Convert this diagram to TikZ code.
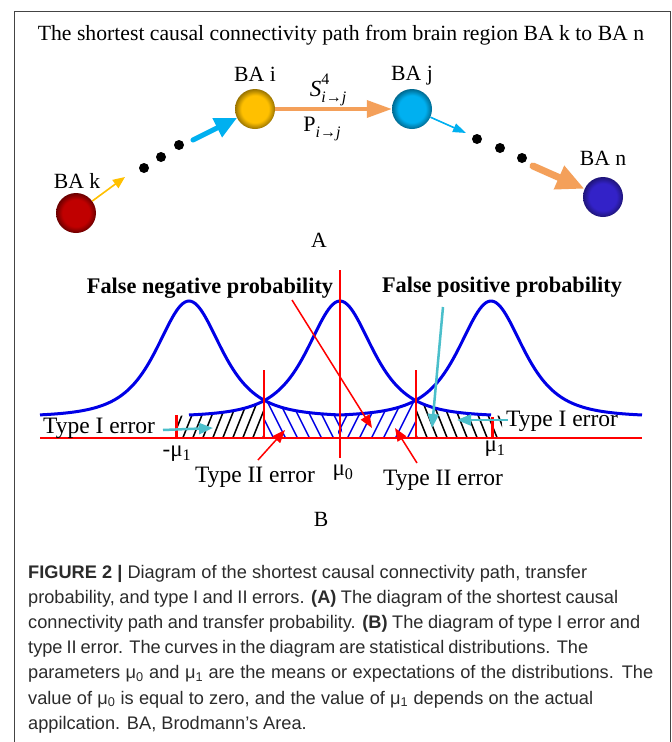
\documentclass[tikz,border=0pt]{standalone}
\usepackage{fontspec}
\setmainfont{Liberation Serif}
\newfontfamily\capfont{Liberation Sans}
\usetikzlibrary{arrows.meta}

\definecolor{kred}{HTML}{C00000}
\colorlet{kdark}{kred!55!black}
\definecolor{igold}{HTML}{FFC000}
\colorlet{idark}{igold!60!black}
\definecolor{jcyan}{HTML}{00B0F0}
\colorlet{jdark}{jcyan!60!black}
\definecolor{nblue}{HTML}{3322C8}
\colorlet{ndark}{nblue!60!black}
\definecolor{arrorange}{HTML}{F4A05A}
\definecolor{arrblue}{HTML}{00B0F0}
\definecolor{arryellow}{HTML}{FFC000}
\definecolor{curveblue}{RGB}{0,0,230}
\definecolor{hred}{RGB}{255,0,0}
\definecolor{tcyan}{HTML}{4BBFCB}
\definecolor{captext}{HTML}{2B2B2B}
\definecolor{framec}{HTML}{444444}

\pgfdeclareradialshading{sphk}{\pgfpoint{0bp}{0bp}}{color(0bp)=(kred); color(17bp)=(kred); color(25bp)=(kdark); color(50bp)=(kdark)}
\pgfdeclareradialshading{sphi}{\pgfpoint{0bp}{0bp}}{color(0bp)=(igold); color(17bp)=(igold); color(25bp)=(idark); color(50bp)=(idark)}
\pgfdeclareradialshading{sphj}{\pgfpoint{0bp}{0bp}}{color(0bp)=(jcyan); color(17bp)=(jcyan); color(25bp)=(jdark); color(50bp)=(jdark)}
\pgfdeclareradialshading{sphn}{\pgfpoint{0bp}{0bp}}{color(0bp)=(nblue); color(17bp)=(nblue); color(25bp)=(ndark); color(50bp)=(ndark)}

\newcommand{\capline}[2]{\makebox[#1][s]{#2}}

\tikzset{
  sph/.style={circle, minimum size=40pt, inner sep=0pt},
  dotnode/.style={circle, fill=black, minimum size=10pt, inner sep=0pt},
  lab/.style={font=\fontsize{21.7}{24}\selectfont, inner sep=0pt},
  blab/.style={font=\fontsize{22.3}{24}\selectfont\bfseries, inner sep=0pt},
  tlab/.style={font=\fontsize{23.5}{25}\selectfont, inner sep=0pt},
  mlab/.style={font=\fontsize{23}{25}\selectfont, inner sep=0pt},
  caption/.style={font=\capfont\fontsize{18.2}{20}\selectfont, text=captext, anchor=base west, inner sep=0pt},
  curve/.style={curveblue, line width=3pt},
  redline/.style={hred, line width=1.5pt},
  hatchk/.style={black, line width=1.5pt},
  hatchb/.style={curveblue, line width=1.5pt},
  redarrow/.style={hred, line width=1.5pt, -{Triangle[length=13pt,width=10pt]}},
  cyanarrow/.style={tcyan, line width=2.5pt, -{Triangle[length=14pt,width=11pt]}},
  declare function={dist(\x,\m)=417-116/((1+((\x-\m)/34)^2/3)^2);}
}

\begin{document}
\begin{tikzpicture}[x=1pt,y=-1pt]
\useasboundingbox (0,0) rectangle (672,742);
\fill[white] (0,0) rectangle (672,742);
\draw[framec, line width=0.8pt] (14,742) -- (14,11) -- (670,11) -- (670,742);

% ---------- Part A ----------
\node[lab] (title) at (341,35) {The shortest causal connectivity path from brain region BA k to BA n};

\node[sph, shading=sphk] (k) at (76,213) {};
\node[sph, shading=sphi] (i) at (255,109) {};
\node[sph, shading=sphj] (j) at (412,109) {};
\node[sph, shading=sphn] (n) at (603,197) {};

\node[lab] (lk) at (77,181) {BA k};
\node[lab] (li) at (255,74) {BA i};
\node[lab] (lj) at (412,76) {BA j};
\node[lab] (ln) at (603,158) {BA n};

\node[dotnode] (d1) at (144,168) {};
\node[dotnode] (d2) at (161,157) {};
\node[dotnode] (d3) at (179,145) {};
\node[dotnode] (d4) at (477,139) {};
\node[dotnode] (d5) at (500,148) {};
\node[dotnode] (d6) at (522,158) {};

\coordinate (yend) at (125,177);
\coordinate (bstart) at (193,140);
\coordinate (bend) at (466,133);
\coordinate (ostart) at (533,166);

\draw[arryellow, line width=1.6pt, -{Triangle[length=12pt,width=10pt]}] (k) -- (yend);
\draw[arrblue, line width=5pt, line cap=round, -{Triangle[length=22pt,width=20pt]}] (bstart) -- (i);
\draw[arrorange, line width=3.5pt, -{Triangle[length=25pt,width=17pt]}] (i) -- (j);
\draw[arrblue, line width=1.6pt, -{Triangle[length=13pt,width=9pt]}] (j) -- (bend);
\draw[arrorange, line width=7pt, line cap=round, -{Triangle[length=28pt,width=24pt]}] (ostart) -- (n);

\node[anchor=base, inner sep=0pt, font=\fontsize{23}{24}\selectfont] (slab) at (328,96) {\textit{S}\makebox[0pt][l]{\raisebox{0.5em}{\fontsize{16}{16}\selectfont 4}}\raisebox{-0.28em}{\fontsize{16}{16}\selectfont\textit{i}→\textit{j}}};
\node[anchor=base, inner sep=0pt, font=\fontsize{22}{24}\selectfont] (plab) at (322,131) {P\raisebox{-0.28em}{\fontsize{16}{16}\selectfont\textit{i}→\textit{j}}};

\node[lab] (la) at (319,240) {A};

% ---------- Part B ----------
% hatching
\begin{scope}
\clip (178,438) -- (178,416) -- (189,415) -- plot[domain=189:264,samples=40] (\x,{dist(\x,340)}) -- (264,438) -- cycle;
\foreach \xx in {150,160,...,280} {\draw[hatchk] (\xx,445) -- ++(20,-50);}
\end{scope}
\begin{scope}
\clip (264,438) -- plot[domain=264:342,samples=40] (\x,{dist(\x,189)}) -- (342,438) -- cycle;
\foreach \xx in {240,252,...,350} {\draw[hatchb] (\xx,395) -- ++(25,50);}
\end{scope}
\begin{scope}
\clip (338,438) -- plot[domain=338:416,samples=40] (\x,{dist(\x,491)}) -- (416,438) -- cycle;
\foreach \xx in {320,332,...,430} {\draw[hatchb] (\xx,445) -- ++(25,-50);}
\end{scope}
\begin{scope}
\clip (416,438) -- plot[domain=416:491,samples=40] (\x,{dist(\x,340)}) -- (502,416) -- (502,438) -- cycle;
\foreach \xx in {400,410,...,510} {\draw[hatchk] (\xx,395) -- ++(20,50);}
\end{scope}

% curves
\draw[curve] plot[domain=40:340,samples=150] (\x,{dist(\x,189)});
\draw[curve] plot[domain=189:491,samples=150] (\x,{dist(\x,340)});
\draw[curve] plot[domain=340:642,samples=150] (\x,{dist(\x,491)});

% red lines
\coordinate (bl) at (40,438);
\coordinate (br) at (642,438);
\draw[redline] (bl) -- (br);
\coordinate (m0t) at (340,270);
\coordinate (m0b) at (340,458);
\draw[redline] (m0t) -- (m0b);
\coordinate (c1t) at (264,370);
\coordinate (c1b) at (264,438);
\draw[redline] (c1t) -- (c1b);
\coordinate (c2t) at (416,370);
\coordinate (c2b) at (416,438);
\draw[redline] (c2t) -- (c2b);
\coordinate (t1t) at (176,415);
\coordinate (t1b) at (176,438);
\draw[hred, line width=3pt] (t1t) -- (t1b);
\coordinate (t2t) at (492,417);
\coordinate (t2b) at (492,438);
\draw[hred, line width=3pt] (t2t) -- (t2b);

% labels
\node[blab] (fneg) at (210,288) {False negative probability};
\node[blab] (fpos) at (502,287) {False positive probability};
\node[tlab] (t1l) at (99,428) {Type I error};
\node[tlab] (t1r) at (562,421) {Type I error};
\node[tlab] (t2l) at (255,477) {Type II error};
\node[tlab] (t2r) at (443,480) {Type II error};
\node[mlab] (mu1n) at (177,454) {-μ\textsubscript{1}};
\node[mlab] (mu1) at (495,449) {μ\textsubscript{1}};
\node[mlab] (mu0) at (343,473) {μ\textsubscript{0}};
\node[lab] (lb) at (321,519) {B};

% label arrows
\coordinate (fnegs) at (292,300);
\coordinate (fnege) at (372,428);
\draw[redarrow] (fnegs) -- (fnege);
\coordinate (fposs) at (443,307);
\coordinate (fpose) at (432,428);
\draw[cyanarrow] (fposs) -- (fpose);
\coordinate (t1ls) at (163,430);
\coordinate (t1le) at (213,428);
\draw[cyanarrow] (t1ls) -- (t1le);
\coordinate (t1rs) at (508,420);
\coordinate (t1re) at (457,420);
\draw[cyanarrow] (t1rs) -- (t1re);
\coordinate (t2ls) at (258,460);
\coordinate (t2le) at (285,430);
\draw[redarrow] (t2ls) -- (t2le);
\coordinate (t2rs) at (417,463);
\coordinate (t2re) at (395,428);
\draw[redarrow] (t2rs) -- (t2re);

% ---------- Caption ----------
\node[caption] (cap1) at (28,578) {\capline{559pt}{\textbf{FIGURE 2 |} Diagram of the shortest causal connectivity path, transfer}};
\node[caption] (cap2) at (28,603.2) {\capline{590pt}{probability, and type I and II errors. \textbf{(A)} The diagram of the shortest causal}};
\node[caption] (cap3) at (28,628.4) {\capline{612pt}{connectivity path and transfer probability. \textbf{(B)} The diagram of type I error and}};
\node[caption] (cap4) at (28,653.6) {\capline{560pt}{type II error. The curves in the diagram are statistical distributions. The}};
\node[caption] (cap5) at (28,678.8) {\capline{625pt}{parameters μ\textsubscript{0} and μ\textsubscript{1} are the means or expectations of the distributions. The}};
\node[caption] (cap6) at (28,704) {\capline{565pt}{value of μ\textsubscript{0} is equal to zero, and the value of μ\textsubscript{1} depends on the actual}};
\node[caption] (cap7) at (28,729.2) {appilcation. BA, Brodmann’s Area.};
\end{tikzpicture}
\end{document}
